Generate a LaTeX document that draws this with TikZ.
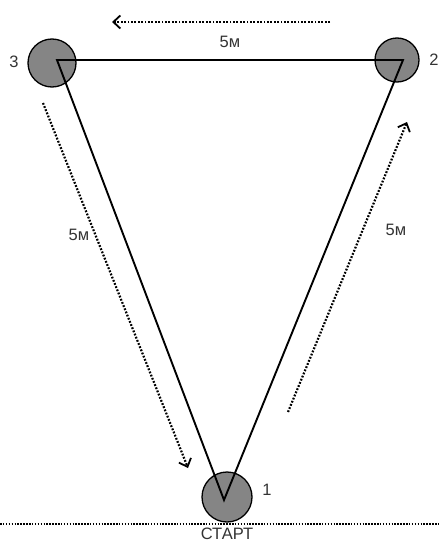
\documentclass[tikz,border=0pt]{standalone}
\usepackage{fontspec}
\setmainfont{Liberation Sans}
\usetikzlibrary{arrows.meta,positioning}
\definecolor{coneFill}{HTML}{858585}
\definecolor{textMain}{HTML}{333333}

\begin{document}
\begin{tikzpicture}[
    x=1pt, y=-1pt,
    font=\fontsize{16.5}{18}\selectfont,
    cone/.style={
        circle, draw=black, line width=1.3pt,
        fill=coneFill, inner sep=0pt
    },
    side/.style={draw=black, line width=1.9pt},
    label/.style={text=textMain, inner sep=0pt},
    walk/.style={
        line width=2.2pt, dash pattern=on 1.8pt off 1.6pt,
        -{Straight Barb[length=7pt,width=13pt,line width=1.8pt]}
    },
    startline/.style={line width=1.6pt, dash pattern=on 1.5pt off 1.4pt}
]
\useasboundingbox (0,0) rectangle (439,543);

% Cones and triangle corners
\node[cone, minimum size=48pt] (Cone3) at (52,63) {};
\node[cone, minimum size=44pt] (Cone2) at (397,60) {};
\node[cone, minimum size=50pt] (Cone1) at (227,497) {};
\coordinate (Turn3) at (57,60);
\coordinate (Turn2) at (403,60);
\coordinate (Turn1) at (224,500);

\draw[side] (Turn3) -- (Turn2) -- (Turn1) -- cycle;

\node[label] (Num3) at (14,62) {3};
\node[label] (Num2) at (434,60) {2};
\node[label] (Num1) at (267,490) {1};

% Walking direction
\coordinate (TopFrom) at (330,22);
\coordinate (TopTo) at (112,22);
\coordinate (LeftFrom) at (43,103);
\coordinate (LeftTo) at (188,468);
\coordinate (RightFrom) at (288,412);
\coordinate (RightTo) at (407,122);
\draw[walk] (TopFrom) -- (TopTo);
\draw[walk] (LeftFrom) -- (LeftTo);
\draw[walk] (RightFrom) -- (RightTo);

\node[label] (TopLen) at (230,42) {5м};
\node[label] (LeftLen) at (79,235) {5м};
\node[label] (RightLen) at (396,230) {5м};

% Start line
\coordinate (LineW) at (0,524);
\coordinate (LineE) at (439,524);
\draw[startline] (LineW) -- (LineE);
\node[label, below=5pt of Cone1.south] (Start) {СТАРТ};

\end{tikzpicture}
\end{document}
